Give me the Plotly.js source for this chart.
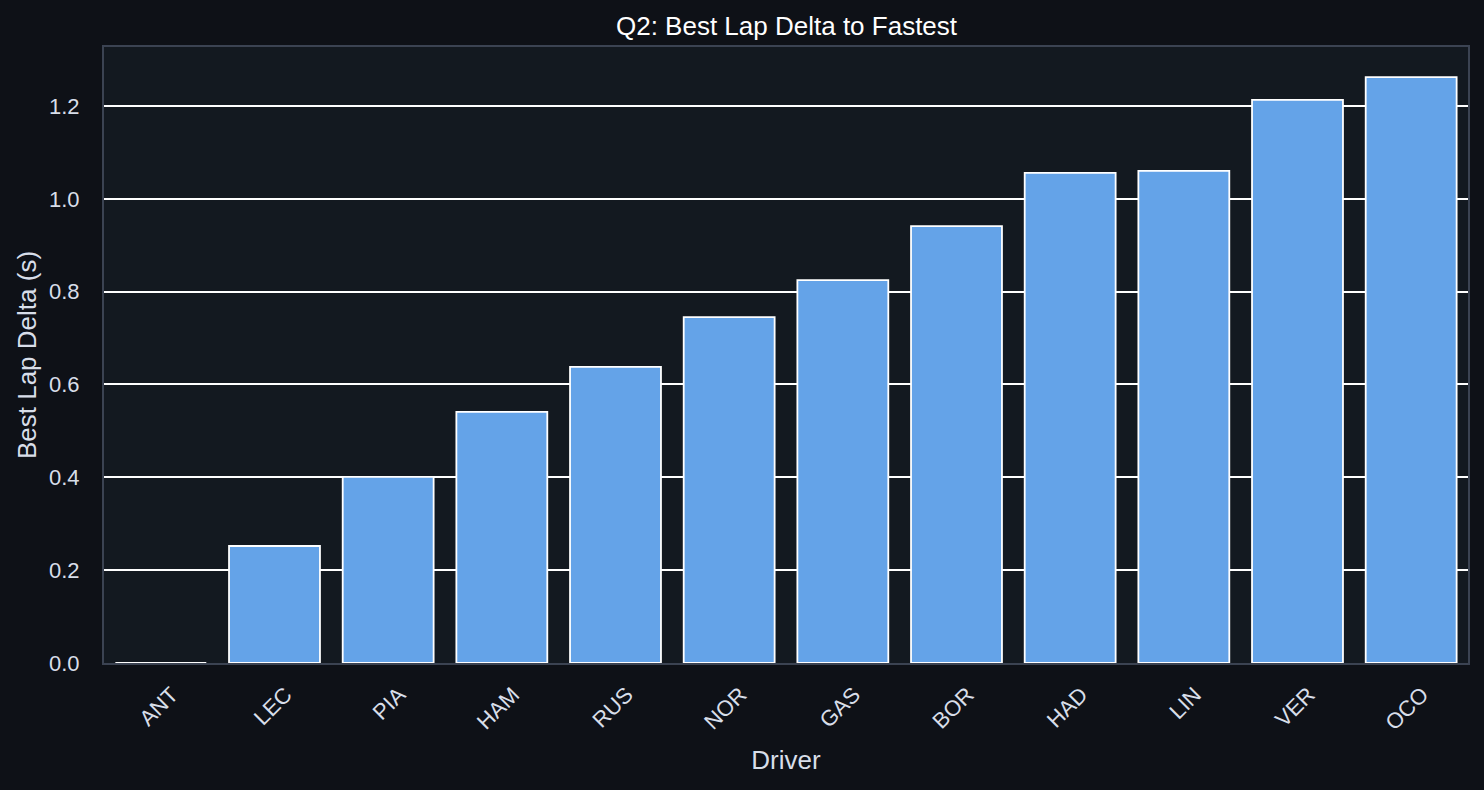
<!DOCTYPE html>
<html>
<head>
<meta charset="utf-8">
<script src="https://cdn.plot.ly/plotly-3.0.1.min.js"></script>
<style>
  html, body { margin: 0; padding: 0; background: #0e1117; }
  #chart { width: 1484px; height: 790px; }
</style>
</head>
<body>
<div id="chart"></div>
<script>
  // Q2 best lap gap per driver, seconds behind the fastest lap.
  const drivers = ["ANT", "LEC", "PIA", "HAM", "RUS", "NOR", "GAS", "BOR", "HAD", "LIN", "VER", "OCO"];
  const deltas = [0.0, 0.252, 0.401, 0.541, 0.638, 0.745, 0.825, 0.941, 1.056, 1.060, 1.213, 1.262];
  const yTicks = [0, 0.2, 0.4, 0.6, 0.8, 1.0, 1.2];

  const BG = "#0e1117";
  const PLOT_BG = "#131920";
  const FRAME = "#3b4352";
  const BAR = "#64a3e8";
  const TEXT = "#d8dee9";
  const FONT = "Liberation Sans, Arial, sans-serif";

  Plotly.newPlot(
    "chart",
    [{
      type: "bar",
      x: drivers,
      y: deltas,
      marker: { color: BAR, line: { color: "#ffffff", width: 1.8 } },
      hoverinfo: "x+y",
    }],
    {
      width: 1484,
      height: 790,
      margin: { l: 104, r: 16, t: 47, b: 127 },
      paper_bgcolor: BG,
      plot_bgcolor: PLOT_BG,
      font: { family: FONT, size: 22, color: TEXT },
      title: {
        text: "Q2: Best Lap Delta to Fastest",
        x: 0.53, xanchor: "center",
        y: 0.967, yanchor: "middle",
        font: { family: FONT, size: 26, color: "#ffffff" },
      },
      bargap: 0.2,
      showlegend: false,
      xaxis: {
        title: { text: "Driver", font: { size: 26, color: TEXT }, standoff: 17 },
        tickangle: -45,
        ticklabelshift: 11,
        ticklabelstandoff: 8,
        showgrid: false,
        showline: true, mirror: true, linecolor: FRAME, linewidth: 2,
        ticks: "", ticklen: 0,
        tickfont: { size: 22, color: TEXT },
      },
      yaxis: {
        title: { text: "Best Lap Delta (s)", font: { size: 26, color: TEXT }, standoff: 5 },
        range: [0, 1.327],
        tickvals: yTicks,
        ticktext: yTicks.map((v) => v.toFixed(1)),
        gridcolor: "#ffffff", gridwidth: 2,
        zeroline: false,
        showline: true, mirror: true, linecolor: FRAME, linewidth: 2,
        ticks: "", ticklen: 0,
        ticklabelstandoff: 18,
        tickfont: { size: 22, color: TEXT },
      },
    },
    { displayModeBar: false, responsive: false },
  );
</script>
</body>
</html>
